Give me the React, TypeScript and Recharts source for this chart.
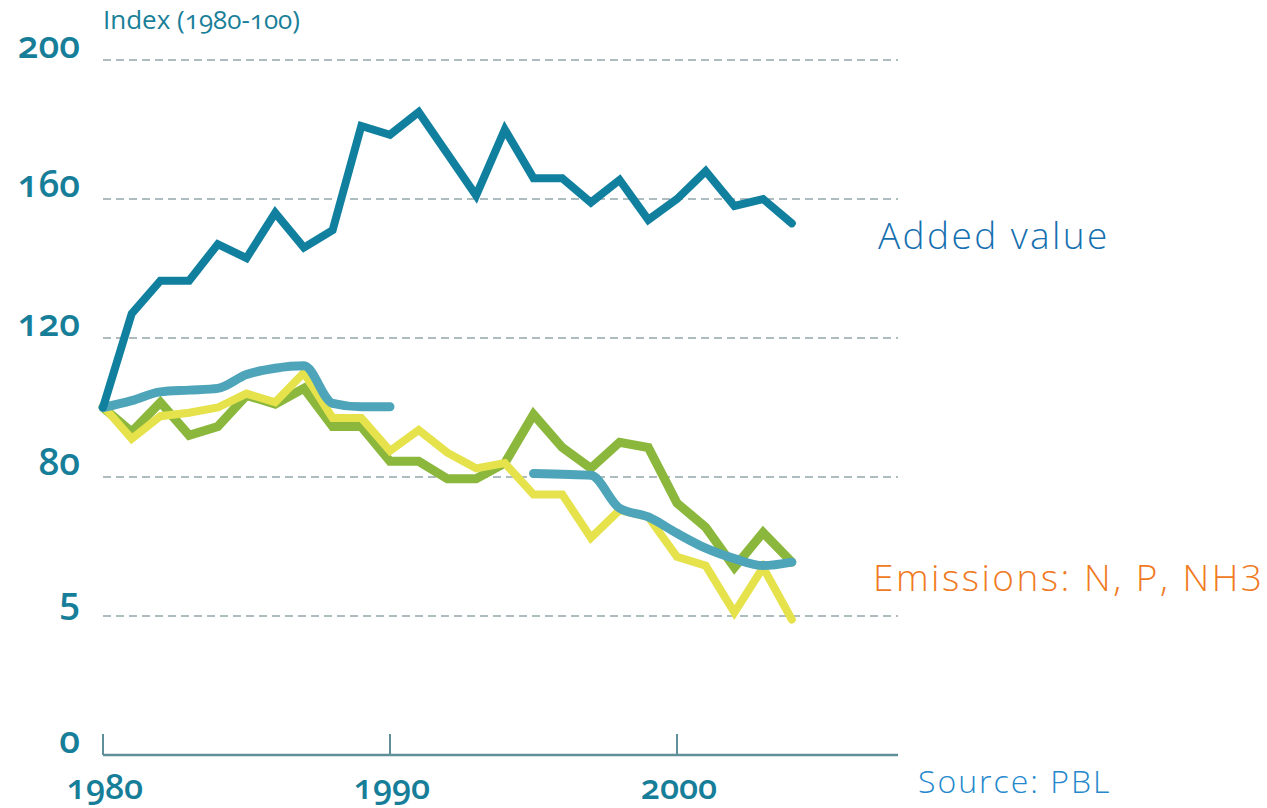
import { LineChart, Line, XAxis, YAxis, CartesianGrid } from "recharts";

const years = [
  1980, 1981, 1982, 1983, 1984, 1985, 1986, 1987, 1988, 1989, 1990, 1991, 1992,
  1993, 1994, 1995, 1996, 1997, 1998, 1999, 2000, 2001, 2002, 2003, 2004,
];
const addedValue = [
  100, 127, 136.5, 136.5, 147, 143, 156, 146, 151, 181, 178.5, 185, 173, 161,
  180, 166, 166, 159, 165.5, 154, 160, 168, 158, 160, 153,
];
const nitrogen = [
  100, 93, 101.5, 92, 94.5, 103.5, 101, 105.5, 94.5, 94.5, 84.5, 84.5, 79.5,
  79.5, 84, 98, 88.5, 82.5, 90, 88.5, 72.5, 65.5, 54, 64, 55.5,
];
const phosphorus = [
  100.5, 91, 97.5, 98.5, 100, 104, 101.5, 110, 97, 97, 87.5, 93.5, 87, 82.5, 84,
  75, 75, 62.5, 70.5, 68.5, 57, 54.5, 41, 54, 39,
];
const ammonia = [
  100, 102, 104.5, 105, 105.5, 109.5, 111.3, 112, 101.2, 100.2, 100.2, null,
  null, null, null, 81, 80.8, 80.5, 71, 68.5, 63.8, 59.5, 56.5, 54.5, 55.5,
];
const xTicks = [1980, 1990, 2000];
const yTicks = [0, 40, 80, 120, 160, 200];
const yTickLabels = ["0", "5", "80", "120", "160", "200"];

const data = years.map((year, i) => ({
  year,
  addedValue: addedValue[i],
  nitrogen: nitrogen[i],
  phosphorus: phosphorus[i],
  ammonia: ammonia[i],
}));

const FONT = "'Open Sans', sans-serif";
const TICK_COLOR = "#177e99";
const OLD_NUMS = { fontVariantNumeric: "oldstyle-nums", fontFeatureSettings: "'onum' 1" } as any;
const LINING = { fontVariantNumeric: "lining-nums", fontFeatureSettings: "'lnum' 1" } as any;

const YTick = ({ x, y, payload }: any) => {
  const idx = yTicks.indexOf(payload.value);
  return (
    <text
      x={x}
      y={y - 2}
      textAnchor="end"
      fill={TICK_COLOR}
      fontFamily={FONT}
      fontWeight={600}
      fontSize={37}
      style={OLD_NUMS}
    >
      {idx >= 0 ? yTickLabels[idx] : payload.value}
    </text>
  );
};

const XTick = ({ x, y, payload }: any) => (
  <g>
    <line x1={x} y1={y} x2={x} y2={y - 21} stroke="#5f8f99" strokeWidth={2} />
    <text
      x={x + 2}
      y={y + 44}
      textAnchor="middle"
      fill={TICK_COLOR}
      fontFamily={FONT}
      fontWeight={600}
      fontSize={34}
      style={OLD_NUMS}
    >
      {payload.value}
    </text>
  </g>
);

export default function App() {
  return (
    <div
      style={{
        position: "absolute",
        left: 0,
        top: 0,
        width: 1267,
        height: 808,
        background: "#fff",
        fontFamily: FONT,
        ...OLD_NUMS,
      }}
    >
      <LineChart
        width={1267}
        height={808}
        data={data}
        margin={{ top: 60, right: 369, bottom: 0, left: 0 }}
        style={OLD_NUMS}
      >
        <CartesianGrid
          horizontal
          vertical={false}
          stroke="#93a7aa"
          strokeDasharray="8 5"
          strokeWidth={1.3}
        />
        <XAxis
          dataKey="year"
          type="number"
          domain={[1980, 2007.7]}
          ticks={xTicks}
          height={53}
          tickLine={false}
          tickSize={0}
          tickMargin={0}
          axisLine={{ stroke: "#5f8f99", strokeWidth: 2.5 }}
          tick={<XTick />}
          interval={0}
        />
        <YAxis
          type="number"
          domain={[0, 200]}
          ticks={yTicks}
          width={103}
          axisLine={false}
          tickLine={false}
          tickSize={0}
          tickMargin={23}
          tick={<YTick />}
          interval={0}
        />
        <Line
          dataKey="nitrogen"
          stroke="#8bb83c"
          strokeWidth={9}
          dot={false}
          type="linear"
          strokeLinecap="round"
          isAnimationActive={false}
        />
        <Line
          dataKey="phosphorus"
          stroke="#e5e24c"
          strokeWidth={8}
          dot={false}
          type="linear"
          strokeLinecap="round"
          isAnimationActive={false}
        />
        <Line
          dataKey="ammonia"
          stroke="#4ea5ba"
          strokeWidth={9}
          dot={false}
          type="monotone"
          strokeLinecap="round"
          isAnimationActive={false}
        />
        <Line
          dataKey="addedValue"
          stroke="#11809f"
          strokeWidth={8}
          dot={false}
          type="linear"
          strokeLinecap="round"
          isAnimationActive={false}
        />
      </LineChart>
      <svg
        width={1267}
        height={808}
        style={{ position: "absolute", left: 0, top: 0, pointerEvents: "none" }}
      >
        <text x={103} y={29} fill="#1a7f99" fontFamily={FONT} fontSize={26} fontWeight={500} style={OLD_NUMS}>
          Index (1980-100)
        </text>
        <text x={878} y={249} fill="#1570b0" fontFamily={FONT} fontSize={37} fontWeight={300} letterSpacing={2.4} style={LINING}>
          Added value
        </text>
        <text x={873} y={591} fill="#f07a22" fontFamily={FONT} fontSize={37} fontWeight={300} letterSpacing={2.5} style={LINING}>
          Emissions: N, P, NH3
        </text>
        <text x={918} y={793} fill="#2588cc" fontFamily={FONT} fontSize={32} fontWeight={300} letterSpacing={2} style={LINING}>
          Source: PBL
        </text>
      </svg>
    </div>
  );
}
